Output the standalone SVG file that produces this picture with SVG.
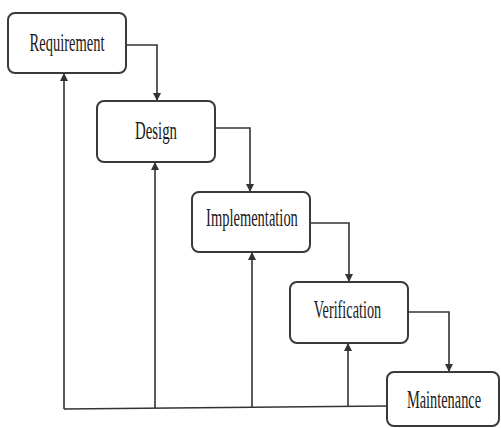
<svg xmlns="http://www.w3.org/2000/svg" width="501" height="428" viewBox="0 0 501 428">
<style>
.box{fill:#fff;stroke:#3a3a3a;stroke-width:2}
.lbl{font-family:"Liberation Serif","Times New Roman",serif;font-size:25px;fill:#1a1a1a;text-anchor:middle}
.ln{fill:none;stroke:#333;stroke-width:1.6}
</style>
<defs>
<marker id="ah" viewBox="0 0 10 10" refX="10" refY="5" markerWidth="8" markerHeight="8" markerUnits="userSpaceOnUse" orient="auto">
<path d="M0,0 L10,5 L0,10 z" fill="#333"/>
</marker>
</defs>
<g id="connectors">
<path class="ln" d="M126,45 H157 V101" marker-end="url(#ah)"/>
<path class="ln" d="M215,128 H250 V192" marker-end="url(#ah)"/>
<path class="ln" d="M310,223 H349 V282" marker-end="url(#ah)"/>
<path class="ln" d="M408,312 H449 V372" marker-end="url(#ah)"/>
<path class="ln" d="M387,406 L64,409"/>
<path class="ln" d="M64,409 V73" marker-end="url(#ah)"/>
<path class="ln" d="M155,408 V162" marker-end="url(#ah)"/>
<path class="ln" d="M252,407 V252" marker-end="url(#ah)"/>
<path class="ln" d="M348,406.5 V343" marker-end="url(#ah)"/>
</g>
<g id="requirement">
<rect class="box" x="8" y="13" width="118" height="60" rx="7"/>
<text class="lbl" transform="translate(67,51) scale(0.58,1)">Requirement</text>
</g>
<g id="design">
<rect class="box" x="97" y="101" width="118" height="61" rx="7"/>
<text class="lbl" transform="translate(156,139) scale(0.593,1)">Design</text>
</g>
<g id="implementation">
<rect class="box" x="192" y="192" width="118" height="60" rx="7"/>
<text class="lbl" transform="translate(252,226) scale(0.58,1)">Implementation</text>
</g>
<g id="verification">
<rect class="box" x="290" y="282" width="118" height="61" rx="7"/>
<text class="lbl" transform="translate(347.5,318) scale(0.571,1)">Verification</text>
</g>
<g id="maintenance">
<rect class="box" x="387" y="372" width="112" height="54" rx="7"/>
<text class="lbl" transform="translate(444,408) scale(0.575,1)">Maintenance</text>
</g>
</svg>
